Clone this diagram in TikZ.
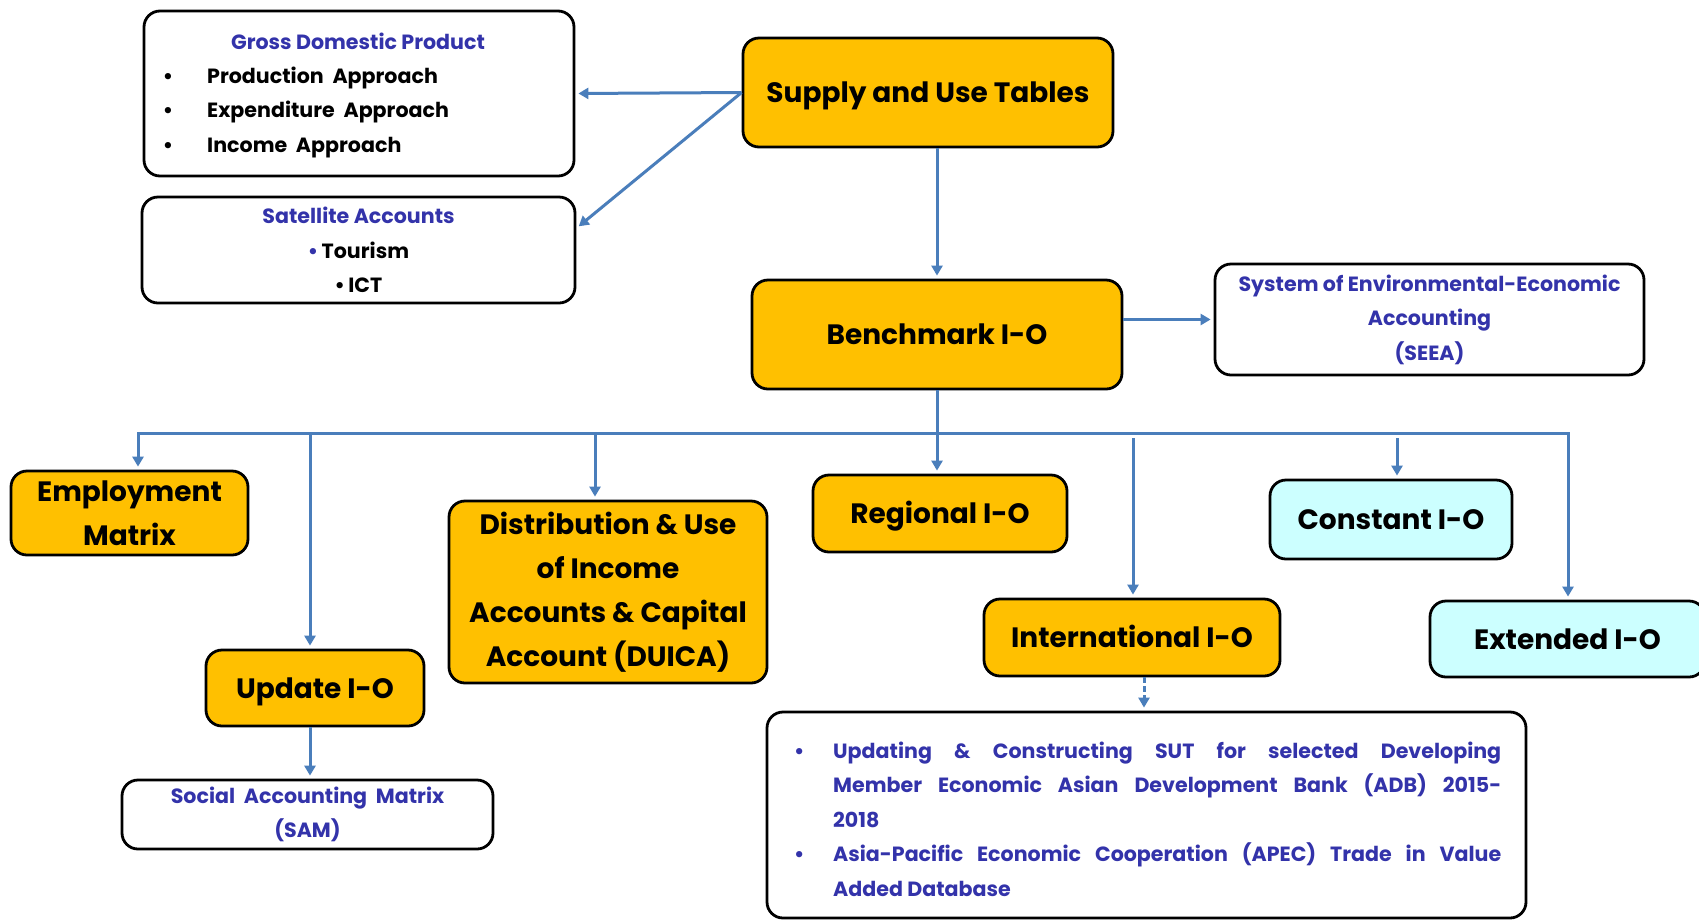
\documentclass[tikz,border=0pt]{standalone}
\usepackage{fontspec}
\setmainfont{Poppins}
\usetikzlibrary{arrows.meta,calc}
\definecolor{gold}{RGB}{255,192,0}
\definecolor{lcyan}{RGB}{204,255,255}
\definecolor{bluet}{RGB}{51,51,170}
\definecolor{arrowc}{RGB}{74,126,187}
\begin{document}
\begin{tikzpicture}[x=1pt,y=-1pt,
  box/.style={draw=black, line width=2.8pt, rounded corners=16pt, inner sep=0pt},
  mainfont/.style={font=\fontsize{28}{44}\selectfont\bfseries},
  smallfont/.style={font=\fontsize{20.6}{34.5}\selectfont\bfseries},
  gbox/.style={box, fill=gold, mainfont, align=center, text=black},
  cbox/.style={box, fill=lcyan, mainfont, align=center, text=black},
  wbox/.style={box, fill=white, smallfont, align=center, text=bluet},
  oneline/.style={text height=20pt, text depth=0pt},
  arr/.style={draw=arrowc, line width=3pt, shorten >=3pt, -{Triangle[length=10pt,width=11pt]}},
  lbl/.style={inner sep=0pt, smallfont}
]
\useasboundingbox (0,0) rectangle (1699,922);
\fill[white] (0,0) rectangle (1699,922);

% top-left boxes
\node[wbox, minimum width=430pt, minimum height=165pt] (gdp) at (359,93.5) {};
\node[lbl, text=bluet] (gdpt) at (358,41) {Gross Domestic Product};
\node[lbl, anchor=base] (b1) at (168,83) {•};
\node[lbl, anchor=base west] (l1) at (207,83) {Production~ Approach};
\node[lbl, anchor=base] (b2) at (168,117.5) {•};
\node[lbl, anchor=base west] (l2) at (207,117.5) {Expenditure~ Approach};
\node[lbl, anchor=base] (b3) at (168,152) {•};
\node[lbl, anchor=base west] (l3) at (207,152) {Income~ Approach};

\node[wbox, minimum width=433pt, minimum height=106pt] (sat) at (358.5,250)
  {Satellite Accounts\\ \textcolor{bluet}{•}\,\textcolor{black}{Tourism}\\ \textcolor{black}{•\,ICT}};

% main chain
\node[gbox, oneline, minimum width=370pt, minimum height=109pt] (sut) at (928,92.5) {Supply and Use Tables};
\node[gbox, oneline, minimum width=370pt, minimum height=109pt] (bench) at (937,334.5) {Benchmark I-O};
\node[wbox, minimum width=429pt, minimum height=111pt] (seea) at (1429.5,319.5)
  {System of Environmental-Economic\\ Accounting\\ (SEEA)};

% lower row
\node[gbox, minimum width=237pt, minimum height=84pt] (emp) at (129.5,513) {Employment\\ Matrix};
\node[gbox, oneline, minimum width=218pt, minimum height=76pt] (upd) at (315,688) {Update I-O};
\node[wbox, minimum width=371pt, minimum height=69pt] (sam) at (307.5,814.5) {Social~ Accounting~ Matrix\\ (SAM)};
\node[gbox, minimum width=318pt, minimum height=182pt] (duica) at (608,592)
  {Distribution \& Use\\ of Income\\ Accounts \& Capital\\ Account (DUICA)};
\node[gbox, oneline, minimum width=254pt, minimum height=77pt] (reg) at (940,513.5) {Regional I-O};
\node[gbox, oneline, minimum width=296pt, minimum height=77pt] (intl) at (1132,637.5) {International I-O};
\node[cbox, oneline, minimum width=242pt, minimum height=79pt] (const) at (1391,519.5) {Constant I-O};
\node[cbox, oneline, minimum width=275pt, minimum height=76pt] (ext) at (1567.5,639) {Extended I-O};

\node[box, fill=white, minimum width=759pt, minimum height=206pt] (big) at (1146.5,815) {};
\node[lbl, text=bluet, anchor=west, align=left] (bigtxt) at (794,819)
  {\makebox[39pt][l]{•}\makebox[668pt][s]{Updating \& Constructing SUT for selected Developing}\\
   \hspace*{39pt}\makebox[668pt][s]{Member Economic Asian Development Bank (ADB) 2015-}\\
   \hspace*{39pt}2018\\
   \makebox[39pt][l]{•}\makebox[668pt][s]{Asia-Pacific Economic Cooperation (APEC) Trade in Value}\\
   \hspace*{39pt}Added Database};

% connectors
\draw[arr] (sut.west) -- (gdp.east);
\draw[arr] (sut.west) -- ($(sat.north east)!0.3!(sat.south east)$);
\draw[arr] (sut.south -| bench.north) -- (bench.north);
\draw[arr] (seea.west -| bench.east) -- (seea.west);

\coordinate (busL) at (138,433);
\coordinate (busR) at (1568,433);
\coordinate (busM) at (bench.south |- busL);
\coordinate (tUpd) at (310,433);
\coordinate (tDui) at (595,433);
\coordinate (tInt) at (1133,438);
\coordinate (tCon) at (1397,438);
\coordinate (tBig) at (1144,433);

\draw[arr] (bench.south) -- (bench.south |- reg.north);
\draw[arr] (busM) -- (busL) -- (busL |- emp.north);
\draw[arr] (busM) -- (busR) -- (busR |- ext.north);
\draw[arr] (tUpd) -- (tUpd |- upd.north);
\draw[arr] (tDui) -- (tDui |- duica.north);
\draw[arr] (tInt) -- (tInt |- intl.north);
\draw[arr] (tCon) -- (tCon |- const.north);
\draw[arr] (upd.south -| tUpd) -- (sam.north -| tUpd);
\draw[arr, dash pattern=on 6pt off 3pt] (intl.south -| tBig) -- (big.north -| tBig);
\end{tikzpicture}
\end{document}
